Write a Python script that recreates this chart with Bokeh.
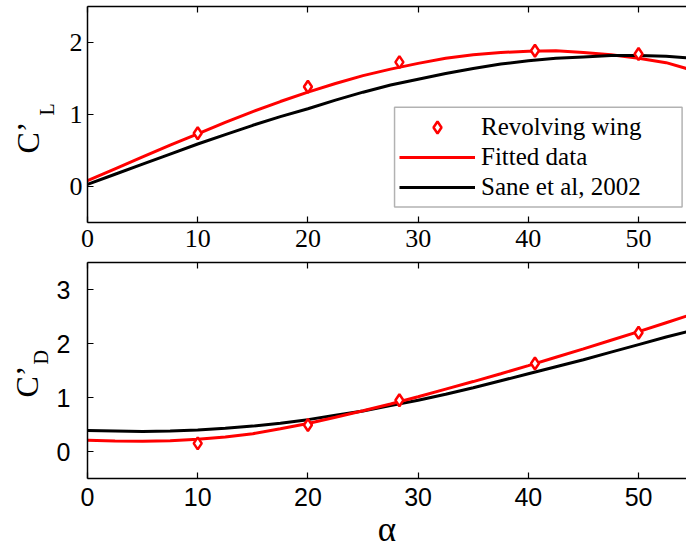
from math import pi

from bokeh.core.properties import value
from bokeh.embed import file_html
from bokeh.layouts import column, row
from bokeh.models import (BoxAnnotation, FixedTicker, Legend, LegendItem,
                          LinearAxis, Range1d)
from bokeh.plotting import figure
from bokeh.resources import INLINE

# ---- data -------------------------------------------------------------
# angle of attack (deg) for the measured points
alpha_pts = [10, 20, 28.3, 40.6, 50]
cl_pts = [0.74, 1.385, 1.727, 1.885, 1.84]
cd_pts = [0.15, 0.49, 0.95, 1.63, 2.20]

# angle of attack (deg) for the curves
alpha_curve = [0, 2.5, 5, 7.5, 10, 12.5, 15, 17.5, 20, 22.5, 25, 27.5,
               30, 32.5, 35, 37.5, 40, 42.5, 45, 47.5, 50, 52.5, 55]
cl_fit = [0.08, 0.245, 0.41, 0.575, 0.73, 0.89, 1.04, 1.18, 1.31, 1.43,
          1.54, 1.63, 1.71, 1.78, 1.83, 1.86, 1.88, 1.885, 1.86, 1.83,
          1.78, 1.72, 1.61]
cl_sane = [0.03, 0.17, 0.31, 0.45, 0.59, 0.72, 0.85, 0.97, 1.08, 1.20,
           1.31, 1.41, 1.49, 1.57, 1.64, 1.70, 1.745, 1.78, 1.80, 1.82,
           1.82, 1.81, 1.78]
cd_fit = [0.21, 0.195, 0.19, 0.20, 0.225, 0.27, 0.33, 0.42, 0.52, 0.635,
          0.755, 0.88, 1.015, 1.155, 1.295, 1.44, 1.59, 1.745, 1.90, 2.06,
          2.22, 2.385, 2.55]
cd_sane = [0.39, 0.38, 0.37, 0.38, 0.40, 0.43, 0.47, 0.525, 0.59, 0.67,
           0.75, 0.85, 0.95, 1.06, 1.18, 1.31, 1.44, 1.57, 1.70, 1.84,
           1.98, 2.12, 2.25]

x_ticks = [0, 10, 20, 30, 40, 50]
cl_ticks = [0, 1, 2]
cd_ticks = [0, 1, 2, 3]

SERIF = "Liberation Serif"
SANS = "Liberation Sans"
RED = "#ff0000"

FRAME_LEFT = 87       # x position of the left axis line
TOP_H = 260           # total height of the lift panel
BOT_H = 289           # total height of the drag panel


def make_axis(ticks, font, size, standoff, labels=True):
    ax = LinearAxis(ticker=FixedTicker(ticks=ticks))
    ax.axis_line_color = "black"
    ax.axis_line_width = 1.5
    ax.major_tick_line_color = "black"
    ax.major_tick_line_width = 1.2
    ax.major_tick_in = 6
    ax.major_tick_out = 0
    ax.minor_tick_line_color = None
    ax.major_label_text_font = font
    if labels:
        ax.major_label_text_color = "black"
        ax.major_label_text_font_size = size
        ax.major_label_standoff = standoff
    else:
        # box edge: ticks only, no labels
        ax.major_label_text_color = None
        ax.major_label_text_font_size = "0px"
        ax.major_label_standoff = 0
    return ax


def make_panel(strip_w, y_lo, y_hi, top, bottom):
    p = figure(frame_width=599, frame_height=216,
               x_range=Range1d(0, 54.35), y_range=Range1d(y_lo, y_hi),
               x_axis_location=None, y_axis_location=None,
               min_border_left=FRAME_LEFT - strip_w, min_border_right=0,
               min_border_top=top, min_border_bottom=bottom,
               output_backend="svg", toolbar_location=None)
    p.outline_line_color = None
    p.grid.visible = False
    p.background_fill_color = "white"
    p.border_fill_color = "white"
    return p


def title_strip(width, height, main, sub, main_pos, sub_pos):
    """Narrow strip carrying a rotated C' title with its subscript.
    Its ranges are in pixels, y counted downward from the strip top."""
    s = figure(frame_width=width, frame_height=height,
               x_range=Range1d(0, width), y_range=Range1d(height, 0),
               x_axis_location=None, y_axis_location=None,
               min_border=0, output_backend="svg", toolbar_location=None)
    s.outline_line_color = None
    s.grid.visible = False
    s.border_fill_color = "white"
    s.text(x=[main_pos[0]], y=[main_pos[1]], text=[main], angle=pi / 2,
           text_align="left", text_baseline="middle",
           text_font=value(SERIF), text_font_size="32px", text_color="black")
    s.text(x=[sub_pos[0]], y=[sub_pos[1]], text=[sub], angle=pi / 2,
           text_align="left", text_baseline="middle",
           text_font=value(SERIF), text_font_size="20px", text_color="black")
    return s


# ---- lift coefficient -------------------------------------------------
TOP_STRIP = 58
p1 = make_panel(TOP_STRIP, -0.5, 2.5, 6, 38)
p1.add_layout(make_axis(x_ticks, SERIF, "26px", 7), "below")
p1.add_layout(make_axis(x_ticks, SERIF, "26px", 0, labels=False), "above")
p1.add_layout(make_axis(cl_ticks, SERIF, "26px", 5), "left")

r_fit = p1.line(alpha_curve, cl_fit, line_color=RED, line_width=3)
r_sane = p1.line(alpha_curve, cl_sane, line_color="black", line_width=3)
r_pts = p1.scatter(alpha_pts, cl_pts, marker="diamond", size=12,
                   line_color=RED, line_width=2.5, fill_color="white")

# legend frame (white box with a thin black border)
p1.add_layout(BoxAnnotation(left=27.86, right=53.95, top=1.10, bottom=-0.285,
                            fill_color="white", fill_alpha=1.0,
                            line_color="black", line_width=1.5))
legend = Legend(items=[LegendItem(label="Revolving wing", renderers=[r_pts]),
                       LegendItem(label="Fitted data", renderers=[r_fit]),
                       LegendItem(label="Sane et al, 2002", renderers=[r_sane])],
                location=(312, 20), margin=0, padding=5, spacing=0,
                glyph_width=76, glyph_height=30, label_height=30,
                label_standoff=6,
                label_text_font=SERIF, label_text_font_size="25px",
                label_text_color="black",
                border_line_color=None, background_fill_alpha=0.0)
p1.add_layout(legend)

s1 = title_strip(TOP_STRIP, TOP_H, "C\u2019", "L", (27.5, 147), (46.5, 109))

# ---- drag coefficient -------------------------------------------------
BOT_STRIP = 52
p2 = make_panel(BOT_STRIP, -0.5, 3.5, 2, 71)
bottom_axis = make_axis(x_ticks, SANS, "25px", 9)
bottom_axis.axis_label = "\u03b1"
bottom_axis.axis_label_text_font = SERIF
bottom_axis.axis_label_text_font_size = "35px"
bottom_axis.axis_label_text_font_style = "normal"
bottom_axis.axis_label_text_color = "black"
bottom_axis.axis_label_standoff = 1
p2.add_layout(bottom_axis, "below")
p2.add_layout(make_axis(x_ticks, SANS, "25px", 0, labels=False), "above")
p2.add_layout(make_axis(cd_ticks, SANS, "25px", 17), "left")

p2.line(alpha_curve, cd_sane, line_color="black", line_width=3)
p2.line(alpha_curve, cd_fit, line_color=RED, line_width=3)
p2.scatter(alpha_pts, cd_pts, marker="diamond", size=12,
           line_color=RED, line_width=2.5, fill_color="white")

s2 = title_strip(BOT_STRIP, BOT_H, "C\u2019", "D", (26.5, 135), (40.5, 102))

layout = column(row(s1, p1, spacing=0), row(s2, p2, spacing=0), spacing=0)
open("out.html", "w").write(file_html(layout, INLINE))
